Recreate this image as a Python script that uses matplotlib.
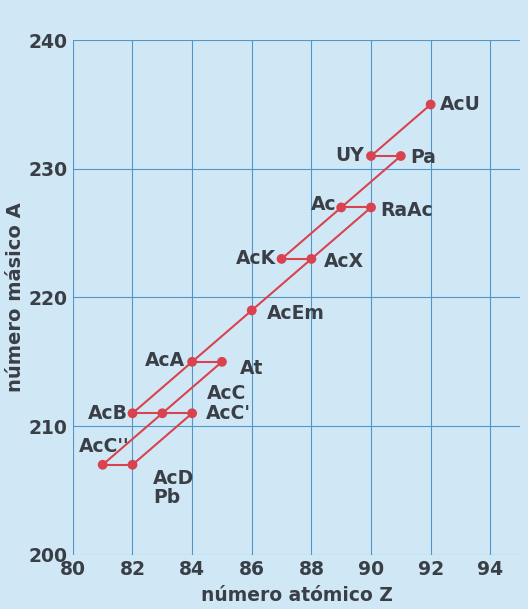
import matplotlib.pyplot as plt

# nuclides of the actinium series: atomic number Z, mass number A
names = ["AcU", "UY", "Pa", "Ac", "RaAc", "AcK", "AcX", "AcEm",
         "AcA", "At", "AcB", "AcC", "AcC'", "AcC''", "AcD"]
z_vals = [92, 90, 91, 89, 90, 87, 88, 86, 84, 85, 82, 83, 84, 81, 82]
a_vals = [235, 231, 231, 227, 227, 223, 223, 219, 215, 215, 211, 211, 211, 207, 207]

# decay steps (from, to)
decays = [("AcU", "UY"), ("UY", "Pa"), ("Pa", "Ac"), ("Ac", "RaAc"),
          ("Ac", "AcK"), ("RaAc", "AcX"), ("AcK", "AcX"), ("AcX", "AcEm"),
          ("AcEm", "AcA"), ("AcA", "At"), ("AcA", "AcB"), ("At", "AcC"),
          ("AcB", "AcC"), ("AcC", "AcC'"), ("AcC", "AcC''"),
          ("AcC'", "AcD"), ("AcC''", "AcD")]

# label text, offset in points, alignment
labels = {
    "AcU": ("AcU", (7, 0), "left"),
    "UY": ("UY", (-5, 0), "right"),
    "Pa": ("Pa", (7, -1), "left"),
    "Ac": ("Ac", (-3, 2), "right"),
    "RaAc": ("RaAc", (7, -2), "left"),
    "AcK": ("AcK", (-4, 0), "right"),
    "AcX": ("AcX", (9, -2), "left"),
    "AcEm": ("AcEm", (11, -2), "left"),
    "AcA": ("AcA", (-5, 1), "right"),
    "At": ("At", (13, -5), "left"),
    "AcC": ("AcC", (32, 14), "left"),
    "AcC'": ("AcC'", (10, 0), "left"),
    "AcB": ("AcB", (-3, 0), "right"),
    "AcC''": ("AcC''", (-17, 13), "left"),
    "AcD": ("AcD\nPb", (15, -17), "left"),
}

bg = "#d0e8f5"
grid_col = "#5096cc"
red = "#d9434f"
text_col = "#3a3f47"

fig = plt.figure(figsize=(5.28, 6.09), dpi=100, facecolor=bg)
ax = fig.add_axes([0.138, 0.089, 0.847, 0.845], facecolor=bg)

pos = {n: (z, a) for n, z, a in zip(names, z_vals, a_vals)}
for s, e in decays:
    ax.plot([pos[s][0], pos[e][0]], [pos[s][1], pos[e][1]],
            color=red, lw=1.5, zorder=3, solid_capstyle="round")
ax.scatter(z_vals, a_vals, s=50, color=red, zorder=4, edgecolors="none")

for n in names:
    txt, off, ha = labels[n]
    ax.annotate(txt, pos[n], xytext=off, textcoords="offset points",
                ha=ha, va="center", fontsize=13.5, fontweight="bold",
                color=text_col, linespacing=1.0, zorder=5,
                annotation_clip=False)

ax.set_xlim(80, 95)
ax.set_ylim(200, 240)
ax.set_xticks(range(80, 95, 2))
ax.set_yticks(range(200, 241, 10))
ax.grid(True, color=grid_col, lw=0.8)
ax.set_axisbelow(True)
for sp in ax.spines.values():
    sp.set_visible(False)
ax.tick_params(length=0, labelsize=13.5, labelcolor=text_col, pad=4)
for t in ax.get_xticklabels() + ax.get_yticklabels():
    t.set_fontweight("bold")

ax.set_xlabel("número atómico Z", fontsize=13.5, fontweight="bold",
              color=text_col, labelpad=5)
ax.set_ylabel("número másico A", fontsize=14, fontweight="bold",
              color=text_col, labelpad=2)

fig.savefig("out.png", dpi=100, facecolor=bg)
